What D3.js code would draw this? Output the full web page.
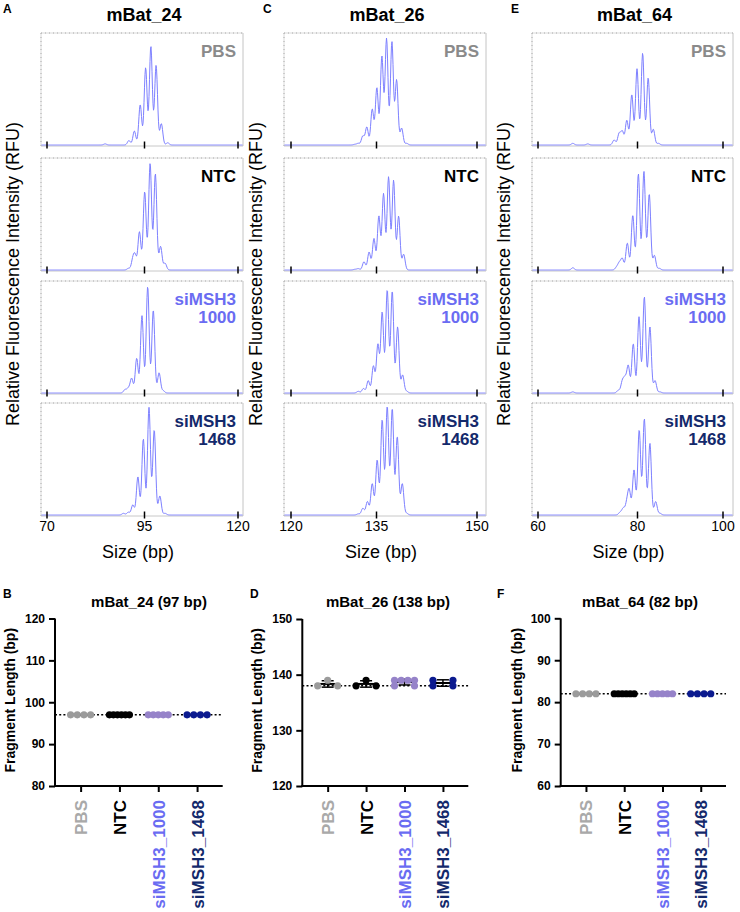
<!DOCTYPE html>
<html><head><meta charset="utf-8">
<script src="https://cdn.jsdelivr.net/npm/d3@7"></script>
<style>body{margin:0;background:#fff} svg{display:block;font-family:"Liberation Sans",Arial,Helvetica,sans-serif}</style>
</head><body><svg id="c" width="740" height="912"></svg>
<script>
// ---------------- data ----------------
const conditions = ["PBS", "NTC", "siMSH3_1000", "siMSH3_1468"];
const panelLabels = [["PBS"], ["NTC"], ["siMSH3", "1000"], ["siMSH3", "1468"]];
const markers = ["mBat_24", "mBat_26", "mBat_64"];
const markerSizes = [97, 138, 82];
const sizeTicksA = [70, 95, 120];
const sizeTicksC = [120, 135, 150];
const sizeTicksE = [60, 80, 100];

// electropherogram peaks: size (bp) and relative height (fraction of panel height)
const peakSizeA_PBS = [84.9, 91.0, 92.4, 93.9, 95.3, 96.7, 98.1, 99.5, 101.2];
const peakHeightA_PBS = [0.01, 0.04, 0.125, 0.36, 0.69, 0.88, 0.71, 0.19, 0.02];
const peakSizeA_NTC = [90.9, 92.0, 92.6, 93.7, 95.05, 96.5, 97.9, 99.3, 100.5];
const peakHeightA_NTC = [0.015, 0.09, 0.12, 0.34, 0.70, 0.95, 0.86, 0.21, 0.06];
const peakSizeA_1000 = [90.0, 90.85, 91.7, 93.0, 94.35, 95.85, 97.35, 98.9, 100.0];
const peakHeightA_1000 = [0.03, 0.04, 0.13, 0.31, 0.69, 0.95, 0.74, 0.18, 0.02];
const peakSizeA_1468 = [89.6, 90.85, 92.0, 93.3, 94.7, 96.2, 97.6, 99.1, 100.5];
const peakHeightA_1468 = [0.015, 0.025, 0.09, 0.34, 0.68, 0.96, 0.76, 0.17, 0.015];

const peakSizeC_PBS = [131.2, 131.8, 132.6, 133.3, 134.25, 135.05, 135.8, 136.5, 137.3, 138.0, 138.75, 139.5];
const peakHeightC_PBS = [0.006, 0.015, 0.08, 0.16, 0.32, 0.51, 0.79, 0.95, 0.92, 0.58, 0.15, 0.015];
const peakSizeC_NTC = [131.2, 131.8, 132.8, 133.7, 134.55, 135.35, 136.05, 136.8, 137.55, 138.3, 139.05];
const peakHeightC_NTC = [0.006, 0.012, 0.074, 0.16, 0.28, 0.48, 0.68, 0.83, 0.80, 0.48, 0.14];
const peakSizeC_1000 = [131.8, 132.7, 133.55, 134.45, 135.2, 135.85, 136.6, 137.35, 138.15, 138.9, 139.5];
const peakHeightC_1000 = [0.015, 0.04, 0.11, 0.24, 0.43, 0.72, 0.92, 0.91, 0.59, 0.16, 0.015];
const peakSizeC_1468 = [131.8, 132.6, 133.4, 134.25, 135.1, 135.85, 136.6, 137.35, 138.1, 138.85, 139.5];
const peakHeightC_1468 = [0.01, 0.06, 0.12, 0.28, 0.49, 0.85, 0.97, 0.95, 0.70, 0.28, 0.015];

const peakSizeE_PBS = [67.0, 70.0, 75.3, 76.3, 76.95, 77.85, 78.85, 79.9, 81.2, 82.5, 83.7, 84.9];
const peakHeightE_PBS = [0.015, 0.01, 0.045, 0.10, 0.12, 0.22, 0.45, 0.68, 0.82, 0.60, 0.14, 0.015];
const peakSizeE_NTC = [67.0, 75.8, 76.35, 76.95, 77.95, 79.05, 80.2, 81.5, 82.75, 83.95, 85.1];
const peakHeightE_NTC = [0.02, 0.024, 0.06, 0.10, 0.24, 0.49, 0.86, 0.88, 0.68, 0.13, 0.015];
const peakSizeE_1000 = [67.0, 76.15, 76.95, 77.5, 78.15, 79.15, 80.35, 81.6, 82.9, 84.1, 85.25];
const peakHeightE_1000 = [0.01, 0.024, 0.10, 0.12, 0.24, 0.44, 0.68, 0.86, 0.59, 0.11, 0.01];
const peakSizeE_1468 = [76.5, 77.15, 77.85, 78.35, 79.3, 80.4, 81.6, 82.9, 84.25, 85.25];
const peakHeightE_1468 = [0.024, 0.06, 0.10, 0.21, 0.40, 0.76, 0.86, 0.64, 0.12, 0.015];

// fragment lengths (bp) per replicate
const lengthTicksB = [80, 90, 100, 110, 120];
const lengthTicksD = [120, 130, 140, 150];
const lengthTicksF = [60, 70, 80, 90, 100];
const fragB_PBS = [97, 97, 97, 97];
const fragB_NTC = [97, 97, 97, 97, 97, 97];
const fragB_1000 = [97, 97, 97, 97, 97];
const fragB_1468 = [97, 97, 97, 97];
const fragD_PBS = [139, 138, 138];
const fragD_NTC = [139, 138, 138];
const fragD_1000 = [139, 139, 139, 139, 138, 138];
const fragD_1468 = [139, 139, 138, 138];
const fragF_PBS = [82, 82, 82, 82];
const fragF_NTC = [82, 82, 82, 82, 82, 82];
const fragF_1000 = [82, 82, 82, 82, 82];
const fragF_1468 = [82, 82, 82, 82];

// ---------------- styles ----------------
const labelColors = ["#8a8a8a", "#000000", "#6a6cf2", "#13296b"];
const axisLabelColors = ["#a9a9a9", "#000000", "#6a6cf2", "#13296b"];
const dotColors = ["#9b9b9b", "#000000", "#9683c9", "#0b1a8f"];
const traceColor = "#7d80ff";
const FONT = '"Liberation Sans", Arial, Helvetica, sans-serif';

const svg = d3.select("#c");

// ---------------- top: electropherograms ----------------
const rowTops = [33, 158, 281, 403];
const rowH = 112;
const sigma = 1.45;

const topCols = [
  { letter: "A", letterX: 3, x0: 41, x1: 243, ticks: sizeTicksA, tickPx: [47, 144.5, 238],
    traces: [[peakSizeA_PBS, peakHeightA_PBS], [peakSizeA_NTC, peakHeightA_NTC], [peakSizeA_1000, peakHeightA_1000], [peakSizeA_1468, peakHeightA_1468]] },
  { letter: "C", letterX: 263, x0: 284, x1: 486, ticks: sizeTicksC, tickPx: [291, 376.5, 477],
    traces: [[peakSizeC_PBS, peakHeightC_PBS], [peakSizeC_NTC, peakHeightC_NTC], [peakSizeC_1000, peakHeightC_1000], [peakSizeC_1468, peakHeightC_1468]] },
  { letter: "E", letterX: 511, x0: 532, x1: 733, ticks: sizeTicksE, tickPx: [538, 637.5, 723],
    traces: [[peakSizeE_PBS, peakHeightE_PBS], [peakSizeE_NTC, peakHeightE_NTC], [peakSizeE_1000, peakHeightE_1000], [peakSizeE_1468, peakHeightE_1468]] }
];

topCols.forEach((col, ci) => {
  const g = svg.append("g");
  const x = d3.scaleLinear().domain(col.ticks).range(col.tickPx);
  g.append("text").attr("x", col.letterX).attr("y", 13).attr("font-size", 12).attr("font-weight", "bold").text(col.letter);
  g.append("text").attr("x", (col.x0 + col.x1) / 2 + 2).attr("y", 21).attr("text-anchor", "middle")
    .attr("font-size", 18).attr("font-weight", "bold").text(markers[ci]);
  const cy = (rowTops[0] + rowTops[3] + rowH) / 2;
  g.append("text").attr("transform", `translate(${col.x0 - 22},${cy}) rotate(-90)`)
    .attr("text-anchor", "middle").attr("font-size", 18).text("Relative Fluorescence Intensity (RFU)");

  rowTops.forEach((top, ri) => {
    const base = top + rowH;
    const y = d3.scaleLinear().domain([0, 1]).range([base, top]);
    const sg = g.append("g");
    sg.append("line").attr("x1", col.x0).attr("x2", col.x1).attr("y1", top).attr("y2", top).attr("stroke", "#dadada");
    sg.append("line").attr("x1", col.x0).attr("x2", col.x1).attr("y1", top).attr("y2", top).attr("stroke", "#ababab").attr("stroke-dasharray", "1,3");
    sg.append("line").attr("x1", col.x0).attr("x2", col.x0).attr("y1", top).attr("y2", base + 1).attr("stroke", "#dadada");
    sg.append("line").attr("x1", col.x0).attr("x2", col.x0).attr("y1", top).attr("y2", base + 1).attr("stroke", "#ababab").attr("stroke-dasharray", "1,3");
    sg.append("line").attr("x1", col.x1).attr("x2", col.x1).attr("y1", top).attr("y2", base + 1).attr("stroke", "#c4c4c4");
    sg.append("line").attr("x1", col.x0).attr("x2", col.x1).attr("y1", base + 1).attr("y2", base + 1).attr("stroke", "#c8c8c8");
    const [sizes, heights] = col.traces[ri];
    const pts = d3.range(col.x0 + 0.5, col.x1, 0.5).map(px => {
      let v = 0;
      sizes.forEach((s, i) => { const d = px - x(s); v += heights[i] * Math.exp(-d * d / (2 * sigma * sigma)); });
      return [px, y(v)];
    });
    sg.append("path").attr("d", d3.line()(pts)).attr("fill", "none").attr("stroke", traceColor).attr("stroke-width", 1);
    sg.selectAll(".tk").data(col.ticks).join("line")
      .attr("x1", d => x(d)).attr("x2", d => x(d)).attr("y1", base - 3.5).attr("y2", base + 3.5)
      .attr("stroke", "#000").attr("stroke-width", 1.5);
    const lab = sg.append("text").attr("text-anchor", "end").attr("font-size", 17).attr("font-weight", "bold")
      .attr("fill", labelColors[ri]);
    panelLabels[ri].forEach((t, li) => {
      lab.append("tspan").attr("x", col.x1 - 7).attr("y", top + 24 + li * 18).text(t);
    });
    if (ri === 3) {
      sg.selectAll(".tl").data(col.ticks).join("text")
        .attr("x", d => x(d)).attr("y", base + 16).attr("text-anchor", "middle").attr("font-size", 14).text(d => d);
      sg.append("text").attr("x", (col.x0 + col.x1) / 2 - 4).attr("y", base + 43).attr("text-anchor", "middle")
        .attr("font-size", 18).text("Size (bp)");
    }
  });
});

// ---------------- bottom: fragment length scatter ----------------
const botCols = [
  { letter: "B", letterX: 3, titleX: 149, axisX: 55, x1: 222.7, yTop: 618.5, yBot: 786, ticks: lengthTicksB, ylabX: 15,
    groups: [fragB_PBS, fragB_NTC, fragB_1000, fragB_1468] },
  { letter: "D", letterX: 250, titleX: 388, axisX: 302.3, x1: 468.3, yTop: 619, yBot: 786, ticks: lengthTicksD, ylabX: 262,
    groups: [fragD_PBS, fragD_NTC, fragD_1000, fragD_1468] },
  { letter: "F", letterX: 497, titleX: 640, axisX: 560.7, x1: 726, yTop: 618.3, yBot: 786, ticks: lengthTicksF, ylabX: 522,
    groups: [fragF_PBS, fragF_NTC, fragF_1000, fragF_1468] }
];

botCols.forEach((col, ci) => {
  const g = svg.append("g");
  const y = d3.scaleLinear().domain(d3.extent(col.ticks)).range([col.yBot, col.yTop]);
  const x = d3.scalePoint().domain(conditions).range([col.axisX, col.x1]).padding(0.66);

  g.append("text").attr("x", col.letterX).attr("y", 598).attr("font-size", 12).attr("font-weight", "bold").text(col.letter);
  g.append("text").attr("x", col.titleX).attr("y", 607).attr("text-anchor", "middle").attr("font-size", 15)
    .attr("font-weight", "bold").text(`${markers[ci]} (${markerSizes[ci]} bp)`);
  g.append("text").attr("transform", `translate(${col.ylabX},${(col.yTop + col.yBot) / 2 - 2}) rotate(-90)`)
    .attr("text-anchor", "middle").attr("font-size", 14).attr("font-weight", "bold").text("Fragment Length (bp)");

  g.append("line").attr("x1", col.axisX).attr("x2", col.x1).attr("y1", y(markerSizes[ci])).attr("y2", y(markerSizes[ci]))
    .attr("stroke", "#000").attr("stroke-width", 1.5).attr("stroke-dasharray", "2,2.2");

  col.groups.forEach((vals, gi) => {
    const cx = x(conditions[gi]);
    const m = d3.mean(vals), sd = d3.deviation(vals) || 0;
    if (sd > 0) {
      g.append("line").attr("x1", cx).attr("x2", cx).attr("y1", y(m - sd)).attr("y2", y(m + sd)).attr("stroke", "#000").attr("stroke-width", 1.5);
      [m - sd, m + sd].forEach(v => g.append("line").attr("x1", cx - 6).attr("x2", cx + 6).attr("y1", y(v)).attr("y2", y(v)).attr("stroke", "#000").attr("stroke-width", 1.5));
    }
    g.append("line").attr("x1", cx - 12).attr("x2", cx + 12).attr("y1", y(m)).attr("y2", y(m)).attr("stroke", "#000").attr("stroke-width", 2);
  });

  col.groups.forEach((vals, gi) => {
    const cx = x(conditions[gi]);
    const byVal = d3.group(vals, v => v);
    const pts = [];
    byVal.forEach((arr, v) => {
      const n = arr.length;
      const step = n > 1 ? 20 / (n - 1) : 0;
      arr.forEach((_, k) => pts.push({ x: cx + (k - (n - 1) / 2) * step, y: y(v) }));
    });
    g.selectAll(null).data(pts).join("circle")
      .attr("cx", d => d.x).attr("cy", d => d.y).attr("r", 3.6)
      .attr("fill", dotColors[gi]);
  });

  const ya = d3.axisLeft(y).tickValues(col.ticks).tickSize(6).tickSizeOuter(0).tickPadding(4);
  const yg = g.append("g").attr("transform", `translate(${col.axisX},0)`).call(ya);
  const xa = d3.axisBottom(x).tickSize(6).tickSizeOuter(0);
  const xg = g.append("g").attr("transform", `translate(0,${col.yBot})`).call(xa);
  [yg, xg].forEach(a => {
    a.select(".domain").attr("stroke-width", 2).attr("stroke", "#000");
    a.selectAll(".tick line").attr("stroke-width", 2).attr("stroke", "#000");
  });
  yg.select(".domain").attr("d", `M0,${col.yTop}V${col.yBot + 1}`);
  xg.select(".domain").attr("d", `M${col.axisX - 1},0H${col.x1}`);
  yg.selectAll(".tick text").attr("font-size", 12).attr("font-weight", "bold").attr("font-family", FONT).attr("fill", "#000");
  xg.selectAll(".tick text")
    .attr("transform", "rotate(-90)").attr("text-anchor", "end").attr("x", -14).attr("y", 0).attr("dy", "0.35em")
    .attr("font-size", 17).attr("font-weight", "bold").attr("font-family", FONT)
    .attr("fill", (d, i) => axisLabelColors[i]);
});
</script></body></html>
